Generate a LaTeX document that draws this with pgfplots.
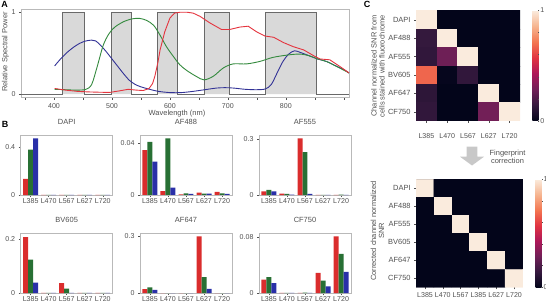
\documentclass[border=0pt]{standalone}
\usepackage{pgfplots}
\pgfplotsset{compat=1.18}
\usepackage{fontspec}
\setmainfont{Liberation Sans}
\definecolor{txt}{RGB}{80,80,80}
\definecolor{frm}{RGB}{185,185,185}
\definecolor{Bred}{RGB}{218,45,45}
\definecolor{Bgreen}{RGB}{40,112,52}
\definecolor{Bblue}{RGB}{42,48,168}
\definecolor{Cred}{RGB}{228,52,62}
\definecolor{Cgreen}{RGB}{52,138,62}
\definecolor{Cblue}{RGB}{50,50,150}
\definecolor{boxc}{RGB}{217,217,217}
\definecolor{stepc}{RGB}{105,105,105}
\definecolor{arrowc}{RGB}{200,200,200}
\definecolor{rocketzero}{RGB}{3,5,26}
\newcommand{\fs}{\fontsize{7.5}{8}\selectfont}
\newcommand{\fst}{\fontsize{7.1}{7.5}\selectfont}
\pgfplotsset{
  every axis/.append style={scale only axis, anchor=north west,
    /pgf/number format/assume math mode=true, scaled y ticks=false, scaled x ticks=false,
    tick align=outside, xtick pos=left, ytick pos=left,
    tick style={txt, line width=0.4bp}, major tick length=2bp, minor tick length=2bp,
    ticklabel style={font=\fst, text=txt},
    axis line style={frm, line width=0.5bp}},
  bpanel/.style={width=92bp, height=59.5bp, xmin=-0.55, xmax=4.55, ymin=0,
    xtick={0,1,2,3,4}, xticklabels={L385,L470,L567,L627,L720},
    xticklabel style={inner sep=1.3bp},
    title style={font=\fs, text=txt, at={(0.5,1)}, anchor=south, inner sep=0pt, yshift=4.5bp}},
  rb/.style={ybar, bar width=0.276, bar shift=-0.276, fill=Bred, draw=none},
  gb/.style={ybar, bar width=0.276, bar shift=0, fill=Bgreen, draw=none},
  bb/.style={ybar, bar width=0.276, bar shift=0.276, fill=Bblue, draw=none},
  colormap={rocket}{rgb255(0)=(3,5,26) rgb255(1)=(53,25,62) rgb255(2)=(112,31,87) rgb255(3)=(173,23,89) rgb255(4)=(225,51,66) rgb255(5)=(243,118,81) rgb255(6)=(246,180,143) rgb255(7)=(250,235,221)},
  hmap/.style={enlargelimits=false, y dir=reverse, axis line style={draw=none},
    axis background/.style={fill=rocketzero},
    point meta min=0, point meta max=1, colorbar,
    yticklabel style={font=\fs},
    colorbar style={at={(1.12,1)}, anchor=north west, width=6bp,
      ytick={0,1}, yticklabels={0,1}, minor ytick={0.2,0.4,0.6,0.8},
      axis line style={draw=none}, axis background/.style={}, ytick pos=right, yticklabel pos=right,
      major tick length=1bp, minor tick length=1bp,
      yticklabel style={font=\fst, text=txt, inner sep=0.6bp}}}
}
\begin{document}
\begin{tikzpicture}
\useasboundingbox (0,0) rectangle (546bp,-304bp);
% ---------------- Panel A ----------------
\node[font=\bfseries\fontsize{9}{9}\selectfont] at (4.5bp,-4bp) {A};
\begin{axis}[at={(21bp,-9bp)}, width=328bp, height=88.5bp,
  xmin=343, xmax=909, ymin=-0.04, ymax=1.04,
  xtick={400,500,600,700,800}, minor xtick={350,450,550,650,750,850,900},
  ytick={0,1}, xticklabel style={yshift=-1bp}]
\addplot[draw=stepc, fill=boxc, line width=0.8bp] coordinates {(343,0) (414,0) (414,1) (453,1) (453,0) (499,0) (499,1) (534,1) (534,0) (578,0) (578,1) (613,1) (613,0) (659,0) (659,1) (703,1) (703,0) (765,0) (765,1) (852,1) (852,0) (909,0)};
\addplot[Cblue, line width=0.9bp, smooth] coordinates {(401,0.345) (410,0.42) (421,0.50) (433,0.57) (444,0.62) (455,0.65) (465,0.66) (472,0.65) (480,0.60) (490,0.52) (500,0.43) (510,0.34) (520,0.25) (530,0.17) (540,0.12) (550,0.09) (565,0.06) (580,0.035) (600,0.02) (620,0.02) (640,0.035) (660,0.055) (680,0.075) (695,0.08) (710,0.075) (730,0.06) (750,0.055) (765,0.065) (775,0.12) (785,0.26) (795,0.40) (805,0.49) (815,0.53) (825,0.51) (840,0.47) (855,0.43) (870,0.40) (885,0.35) (900,0.30) (909,0.26)};
\addplot[Cgreen, line width=0.9bp, smooth] coordinates {(401,0.06) (420,0.055) (440,0.05) (455,0.06) (465,0.12) (475,0.35) (485,0.60) (495,0.74) (505,0.82) (520,0.885) (535,0.92) (548,0.925) (560,0.90) (572,0.84) (583,0.72) (594,0.58) (606,0.46) (617,0.36) (629,0.29) (646,0.215) (659,0.175) (675,0.22) (692,0.32) (709,0.37) (732,0.37) (755,0.40) (778,0.45) (805,0.48) (824,0.49) (840,0.47) (855,0.43) (870,0.40) (890,0.33) (909,0.26)};
\addplot[Cred, line width=0.9bp] coordinates {(401,0.07) (420,0.05) (440,0.035) (460,0.028) (480,0.024) (496,0.022) (512,0.04) (528,0.06) (542,0.05) (554,0.045) (564,0.07) (570,0.13) (574,0.22) (579,0.38) (583,0.54) (591,0.76) (600,0.93) (608,0.99) (617,1.0) (630,1.0) (640,0.99) (652,0.95) (669,0.87) (689,0.79) (703,0.79) (721,0.82) (735,0.83) (750,0.76) (764,0.71) (779,0.695) (796,0.63) (813,0.58) (831,0.54) (848,0.47) (859,0.43) (876,0.42) (893,0.34) (909,0.26)};
\end{axis}
\node[font=\fs, text=txt] at (177bp,-113.5bp) {Wavelength (nm)};
\node[font=\fs, text=txt, rotate=90] at (5.5bp,-52bp) {Relative Spectral Power};
% ---------------- Panel B ----------------
\node[font=\bfseries\fontsize{9}{9}\selectfont] at (5bp,-124.5bp) {B};
\begin{axis}[bpanel, at={(20.7bp,-135.5bp)}, title={DAPI}, ymax=0.494, ytick={0,0.4}, yticklabels={0,0.4}]
\addplot[rb] coordinates {(0,0.133) (1,0.002) (2,0.002) (3,0.002) (4,0.002)};
\addplot[gb] coordinates {(0,0.377) (1,0.002) (2,0.002) (3,0.002) (4,0.002)};
\addplot[bb] coordinates {(0,0.470) (1,0.002) (2,0.002) (3,0.002) (4,0.002)};
\end{axis}
\begin{axis}[bpanel, at={(140bp,-135.5bp)}, title={AF488}, ymax=0.0456, ytick={0,0.04}, yticklabels={0,0.04}]
\addplot[rb] coordinates {(0,0.0343) (1,0.0029) (2,0.0005) (3,0.0018) (4,0.0024)};
\addplot[gb] coordinates {(0,0.0408) (1,0.0434) (2,0.0012) (3,0.0010) (4,0.0012)};
\addplot[bb] coordinates {(0,0.0256) (1,0.0057) (2,0.0008) (3,0.0010) (4,0.0008)};
\end{axis}
\begin{axis}[bpanel, at={(259bp,-135.5bp)}, title={AF555}, ymax=0.32, ytick={0,0.3}, yticklabels={0,0.3}]
\addplot[rb] coordinates {(0,0.020) (1,0.007) (2,0.305) (3,0.001) (4,0.001)};
\addplot[gb] coordinates {(0,0.027) (1,0.006) (2,0.230) (3,0.001) (4,0.002)};
\addplot[bb] coordinates {(0,0.020) (1,0.002) (2,0.006) (3,0.001) (4,0.001)};
\end{axis}
\begin{axis}[bpanel, at={(20.7bp,-233.7bp)}, title={BV605}, ymax=0.2185, ytick={0,0.2}, yticklabels={0,0.2}]
\addplot[rb] coordinates {(0,0.206) (1,0.001) (2,0.037) (3,0.001) (4,0.001)};
\addplot[gb] coordinates {(0,0.123) (1,0.001) (2,0.017) (3,0.001) (4,0.001)};
\addplot[bb] coordinates {(0,0.039) (1,0.001) (2,0.001) (3,0.001) (4,0.001)};
\end{axis}
\begin{axis}[bpanel, at={(140bp,-233.7bp)}, title={AF647}, ymax=0.312, ytick={0,0.3}, yticklabels={0,0.3}]
\addplot[rb] coordinates {(0,0.021) (1,0.001) (2,0.001) (3,0.298) (4,0.001)};
\addplot[gb] coordinates {(0,0.030) (1,0.001) (2,0.001) (3,0.084) (4,0.001)};
\addplot[bb] coordinates {(0,0.018) (1,0.001) (2,0.001) (3,0.023) (4,0.001)};
\end{axis}
\begin{axis}[bpanel, at={(259bp,-233.7bp)}, title={CF750}, ymax=0.0848, ytick={0,0.08}, yticklabels={0,0.08}]
\addplot[rb] coordinates {(0,0.0194) (1,0.0003) (2,0.0003) (3,0.029) (4,0.081)};
\addplot[gb] coordinates {(0,0.0228) (1,0.0003) (2,0.0008) (3,0.018) (4,0.056)};
\addplot[bb] coordinates {(0,0.0145) (1,0.0003) (2,0.0003) (3,0.0097) (4,0.0305)};
\end{axis}
% ---------------- Panel C ----------------
\node[font=\bfseries\fontsize{9}{9}\selectfont] at (367bp,-4.5bp) {C};
\begin{axis}[hmap, at={(416bp,-10.5bp)}, width=104bp, height=110.5bp,
  xmin=-0.5, xmax=4.5, ymin=-0.5, ymax=5.5,
  xtick={0,1,2,3,4}, xticklabels={L385,L470,L567,L627,L720},
  xticklabel style={yshift=-7bp},
  ytick={0,1,2,3,4,5}, yticklabels={DAPI,AF488,AF555,BV605,AF647,CF750}]
\addplot[matrix plot*, mesh/cols=5, point meta=explicit] coordinates {
(0,0)[1] (1,0)[0] (2,0)[0] (3,0)[0] (4,0)[0]

(0,1)[0.14] (1,1)[1] (2,1)[0] (3,1)[0] (4,1)[0]

(0,2)[0.13] (1,2)[0.28] (2,2)[1] (3,2)[0] (4,2)[0]

(0,3)[0.68] (1,3)[0.01] (2,3)[0.13] (3,3)[0] (4,3)[0]

(0,4)[0.12] (1,4)[0] (2,4)[0] (3,4)[1] (4,4)[0]

(0,5)[0.13] (1,5)[0] (2,5)[0] (3,5)[0.29] (4,5)[1]
};
\end{axis}
\node[font=\fs, text=txt, rotate=90, align=center] at (378bp,-66bp) {Channel normalized SNR from\\cells stained with fluorochrome};
% arrow
\fill[arrowc] (466.7bp,-146.5bp) -- (477.3bp,-146.5bp) -- (477.3bp,-156.7bp) -- (484bp,-156.7bp) -- (472bp,-165.5bp) -- (460bp,-156.7bp) -- (466.7bp,-156.7bp) -- cycle;
\node[font=\fs, text=txt, align=center] at (507.5bp,-156.5bp) {Fingerprint\\correction};
\begin{axis}[hmap, at={(416.1bp,-179.3bp)}, width=106.8bp, height=108bp,
  xmin=-0.5, xmax=5.5, ymin=-0.5, ymax=5.5,
  xtick={0,1,2,3,4,5}, xticklabels={L385,L470,L567,L385,L627,L720},
  ytick={0,1,2,3,4,5}, yticklabels={DAPI,AF488,AF555,BV605,AF647,CF750}]
\addplot[matrix plot*, mesh/cols=6, point meta=explicit] coordinates {
(0,0)[1] (1,0)[0] (2,0)[0] (3,0)[0] (4,0)[0] (5,0)[0]

(0,1)[0] (1,1)[1] (2,1)[0] (3,1)[0] (4,1)[0] (5,1)[0]

(0,2)[0] (1,2)[0] (2,2)[1] (3,2)[0] (4,2)[0] (5,2)[0]

(0,3)[0] (1,3)[0] (2,3)[0] (3,3)[1] (4,3)[0] (5,3)[0]

(0,4)[0] (1,4)[0] (2,4)[0] (3,4)[0] (4,4)[1] (5,4)[0]

(0,5)[0] (1,5)[0] (2,5)[0] (3,5)[0] (4,5)[0] (5,5)[1]
};
\end{axis}
\node[font=\fs, text=txt, rotate=90, align=center] at (377.5bp,-231bp) {Corrected channel normalized\\SNR};
\end{tikzpicture}
\end{document}
